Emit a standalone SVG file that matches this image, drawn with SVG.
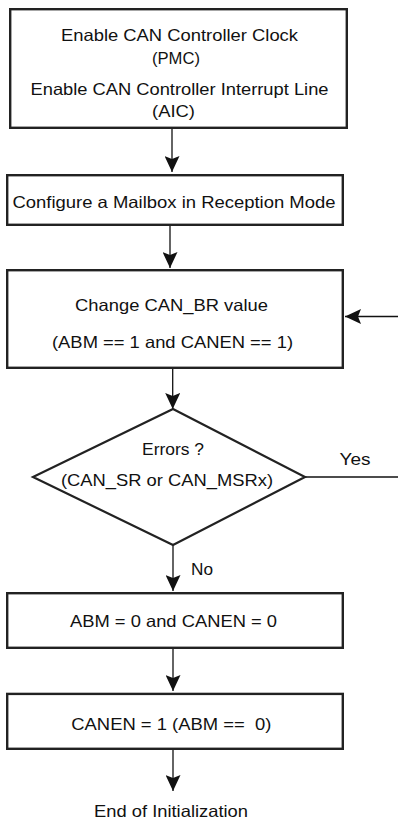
<svg xmlns="http://www.w3.org/2000/svg" width="398" height="822" viewBox="0 0 398 822">
<style>
.box{fill:#fff;stroke:#222;stroke-width:2.4}
.dia{fill:#fff;stroke:#222;stroke-width:2.2}
.t{font-family:"Liberation Sans",Arial,Helvetica,sans-serif;font-size:16.5px;fill:#111;text-anchor:middle}
.c{fill:none;stroke:#111;stroke-width:1.3}
</style>
<defs>
<marker id="ah" viewBox="0 0 16 15" refX="16" refY="7.5" markerWidth="16" markerHeight="15" markerUnits="userSpaceOnUse" orient="auto">
<path d="M0,0 L16,7.5 L0,15 L3,7.5 z" fill="#111"/>
</marker>
</defs>
<rect width="398" height="822" fill="#fff"/>
<g id="connectors">
<line class="c" x1="172" y1="129" x2="172" y2="172" marker-end="url(#ah)"/>
<line class="c" x1="170" y1="226" x2="170" y2="268" marker-end="url(#ah)"/>
<line class="c" x1="172.7" y1="369" x2="172.7" y2="409" marker-end="url(#ah)"/>
<line class="c" x1="305" y1="477" x2="398" y2="477"/>
<line class="c" x1="398" y1="316.5" x2="345" y2="316.5" marker-end="url(#ah)"/>
<line class="c" x1="173" y1="545" x2="173" y2="591" marker-end="url(#ah)"/>
<line class="c" x1="173" y1="649" x2="173" y2="691" marker-end="url(#ah)"/>
<line class="c" x1="173" y1="750" x2="173" y2="791" marker-end="url(#ah)"/>
<text class="t" x="355" y="465" textLength="31" lengthAdjust="spacingAndGlyphs">Yes</text>
<text class="t" x="202" y="575" textLength="22" lengthAdjust="spacingAndGlyphs">No</text>
</g>
<g id="enable">
<rect class="box" x="10.2" y="9.2" width="336.6" height="118.6"/>
<text class="t" x="179.5" y="41" textLength="237" lengthAdjust="spacingAndGlyphs">Enable CAN Controller Clock</text>
<text class="t" x="176" y="64" textLength="48" lengthAdjust="spacingAndGlyphs">(PMC)</text>
<text class="t" x="179.5" y="95" textLength="298" lengthAdjust="spacingAndGlyphs">Enable CAN Controller Interrupt Line</text>
<text class="t" x="173.5" y="117" textLength="43" lengthAdjust="spacingAndGlyphs">(AIC)</text>
</g>
<g id="mailbox">
<rect class="box" x="7.2" y="175.2" width="335.6" height="49.6"/>
<text class="t" x="174" y="207.5" textLength="323" lengthAdjust="spacingAndGlyphs">Configure a Mailbox in Reception Mode</text>
</g>
<g id="changebr">
<rect class="box" x="7.2" y="270.2" width="335.6" height="97.6"/>
<text class="t" x="171.5" y="311" textLength="193" lengthAdjust="spacingAndGlyphs">Change CAN_BR value</text>
<text class="t" x="172.5" y="348" textLength="241" lengthAdjust="spacingAndGlyphs">(ABM == 1 and CANEN == 1)</text>
</g>
<g id="errors">
<polygon class="dia" points="173,409 305,477 173,545 33,477"/>
<text class="t" x="173" y="455" textLength="62" lengthAdjust="spacingAndGlyphs">Errors ?</text>
<text class="t" x="167" y="485.5" textLength="212" lengthAdjust="spacingAndGlyphs">(CAN_SR or CAN_MSRx)</text>
</g>
<g id="abm0">
<rect class="box" x="7.2" y="593.2" width="335.6" height="54.6"/>
<text class="t" x="173.5" y="626.5" textLength="207" lengthAdjust="spacingAndGlyphs">ABM = 0 and CANEN = 0</text>
</g>
<g id="canen1">
<rect class="box" x="7.2" y="693.9" width="335.6" height="54.9"/>
<text class="t" x="171.3" y="730" textLength="200" lengthAdjust="spacingAndGlyphs" style="white-space:pre">CANEN = 1 (ABM ==  0)</text>
</g>
<g id="end">
<text class="t" x="171" y="816.5" textLength="154" lengthAdjust="spacingAndGlyphs">End of Initialization</text>
</g>
</svg>
